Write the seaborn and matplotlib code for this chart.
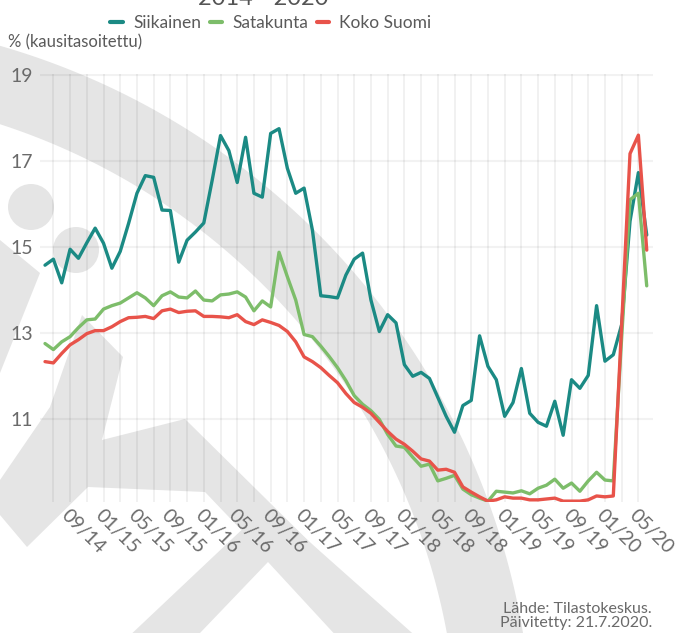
import numpy as np
import pandas as pd
import matplotlib.pyplot as plt
import seaborn as sns
from matplotlib.patches import Polygon, Circle

# 1. Data: seasonally adjusted unemployment share, monthly 06/2014 - 06/2020
kuukaudet = pd.date_range("2014-06-01", "2020-06-01", freq="MS")

siikainen = [14.58, 14.72, 14.17, 14.95, 14.74, 15.10, 15.44, 15.09, 14.51, 14.90,
             15.55, 16.25, 16.66, 16.62, 15.86, 15.85, 14.65, 15.16, 15.35, 15.56,
             16.55, 17.59, 17.24, 16.50, 17.55, 16.25, 16.16, 17.64, 17.75, 16.83,
             16.25, 16.37, 15.39, 13.87, 13.85, 13.82, 14.35, 14.72, 14.86, 13.77,
             13.04, 13.43, 13.24, 12.27, 12.00, 12.09, 11.95, 11.51, 11.07, 10.70,
             11.32, 11.44, 12.94, 12.23, 11.92, 11.07, 11.39, 12.18, 11.14, 10.93,
             10.84, 11.42, 10.63, 11.92, 11.72, 12.02, 13.64, 12.35, 12.50, 13.20,
             15.60, 16.73, 15.28]

satakunta = [12.76, 12.62, 12.80, 12.92, 13.13, 13.31, 13.33, 13.56, 13.64, 13.70,
             13.82, 13.94, 13.82, 13.64, 13.87, 13.96, 13.84, 13.82, 13.98, 13.77,
             13.75, 13.89, 13.91, 13.96, 13.84, 13.52, 13.75, 13.61, 14.88, 14.31,
             13.77, 12.97, 12.92, 12.70, 12.46, 12.20, 11.90, 11.55, 11.35, 11.20,
             11.00, 10.65, 10.38, 10.35, 10.12, 9.91, 9.96, 9.57, 9.63, 9.70,
             9.38, 9.25, 9.17, 9.10, 9.33, 9.31, 9.29, 9.34, 9.27, 9.40,
             9.47, 9.61, 9.40, 9.52, 9.33, 9.57, 9.77, 9.59, 9.57, 12.90,
             16.10, 16.25, 14.10]

koko_suomi = [12.34, 12.31, 12.53, 12.73, 12.85, 12.99, 13.06, 13.06, 13.15, 13.27,
              13.36, 13.37, 13.39, 13.34, 13.52, 13.56, 13.48, 13.51, 13.52, 13.39,
              13.39, 13.38, 13.36, 13.43, 13.27, 13.20, 13.31, 13.25, 13.18, 13.04,
              12.80, 12.45, 12.34, 12.20, 12.02, 11.85, 11.60, 11.39, 11.28, 11.14,
              10.93, 10.72, 10.54, 10.42, 10.26, 10.08, 10.03, 9.82, 9.84, 9.77,
              9.43, 9.31, 9.20, 9.10, 9.13, 9.20, 9.17, 9.17, 9.13, 9.13,
              9.15, 9.17, 9.10, 9.10, 9.10, 9.13, 9.22, 9.20, 9.22, 13.20,
              17.17, 17.60, 14.93]

alueet = ["Siikainen", "Satakunta", "Koko Suomi"]
varit = ["#1b8a84", "#7dbd6a", "#e8534a"]
tick_labels = ["09/14", "01/15", "05/15", "09/15", "01/16", "05/16", "09/16", "01/17",
               "05/17", "09/17", "01/18", "05/18", "09/18", "01/19", "05/19", "09/19",
               "01/20", "05/20"]
y_ticks = [11, 13, 15, 17, 19]

df = pd.DataFrame({"kk": np.tile(np.arange(len(kuukaudet)), 3),
                   "alue": np.repeat(alueet, len(kuukaudet)),
                   "arvo": siikainen + satakunta + koko_suomi})

# 2. Figure + faint background logo
sns.set_theme(style="white")
plt.rcParams["font.family"] = ["Lato", "DejaVu Sans"]
fig = plt.figure(figsize=(6.77, 6.33), dpi=100)

bg = fig.add_axes([0, 0, 1, 1], zorder=0)
bg.set_xlim(0, 677)
bg.set_ylim(633, 0)
bg.axis("off")
logo = "#e5e5e5"
t = np.radians(np.linspace(105, -8, 200))
ulko = np.c_[-204 + 737 * np.cos(t), 754 - 737 * np.sin(t)]
sisa = np.c_[-204 + 662 * np.cos(t[::-1]), 754 - 662 * np.sin(t[::-1])]
bg.add_patch(Polygon(np.vstack([ulko, sisa]), closed=True, fc=logo, ec="none"))
bg.add_patch(Circle((31, 207), 23, fc=logo, ec="none"))
bg.add_patch(Circle((76, 250), 23, fc=logo, ec="none"))
bg.add_patch(Polygon([(0, 240), (40, 273), (0, 373)], fc=logo, ec="none"))
bg.add_patch(Polygon([(82, 315), (123, 357), (102, 440), (185, 419), (340, 572),
                      (310, 602), (205, 492), (88, 487), (27, 547), (0, 515),
                      (0, 480), (50, 407)], fc=logo, ec="none"))
bg.add_patch(Polygon([(268, 505), (420, 640), (340, 640), (268, 562), (200, 633),
                      (125, 640)], fc=logo, ec="none"))

# 3. Lines
ax = fig.add_axes([40 / 677, 1 - 502 / 633, 613 / 677, 428 / 633], zorder=1)
ax.set_facecolor("none")
sns.lineplot(data=df, x="kk", y="arvo", hue="alue", hue_order=alueet,
             palette=varit, linewidth=2.4, ax=ax, legend=False)

ax.set_xlim(-0.6, 72.75)
ax.set_ylim(9.08, 19.02)
ax.set_yticks(y_ticks)
ax.set_yticklabels([str(v) for v in y_ticks], fontsize=14, color="#6a6a6a")
ax.set_xticks(np.arange(3, 72, 4))
ax.set_xticks(np.arange(1, 72, 2), minor=True)
ax.set_xticklabels(tick_labels, rotation=-45, ha="left", rotation_mode="anchor",
                   fontsize=14, color="#6a6a6a")
ax.tick_params(axis="both", which="both", length=0)
ax.tick_params(axis="x", pad=3)
ax.tick_params(axis="y", pad=5)
ax.grid(True, axis="x", which="both", color="black", alpha=0.07, linewidth=1.1)
ax.grid(True, axis="y", which="major", color="black", alpha=0.05, linewidth=1.6)
ax.set_xlabel("")
ax.set_ylabel("")
sns.despine(ax=ax, left=True, bottom=True)

# 4. Texts and legend
fig.text(263 / 677, 1 - 5 / 633, "2014 - 2020", ha="center", va="baseline",
         fontsize=17, color="#555555")
kahvat = [plt.Line2D([], [], color=c, linewidth=3) for c in varit]
fig.legend(kahvat, alueet, loc="center", bbox_to_anchor=(271 / 677, 1 - 23 / 633),
           ncol=3, frameon=False, fontsize=12.5, handlelength=0.7, handletextpad=0.6,
           columnspacing=0.5, labelcolor="#5a5a5a")
fig.text(8 / 677, 1 - 42 / 633, "% (kausitasoitettu)", ha="left", va="center",
         fontsize=12, color="#5a5a5a")
fig.text(652 / 677, 1 - 630 / 633, "Lähde: Tilastokeskus.\nPäivitetty: 21.7.2020.",
         ha="right", va="bottom", fontsize=11.5, color="#6a6a6a", linespacing=1.0)

fig.savefig("out.png", dpi=100)
